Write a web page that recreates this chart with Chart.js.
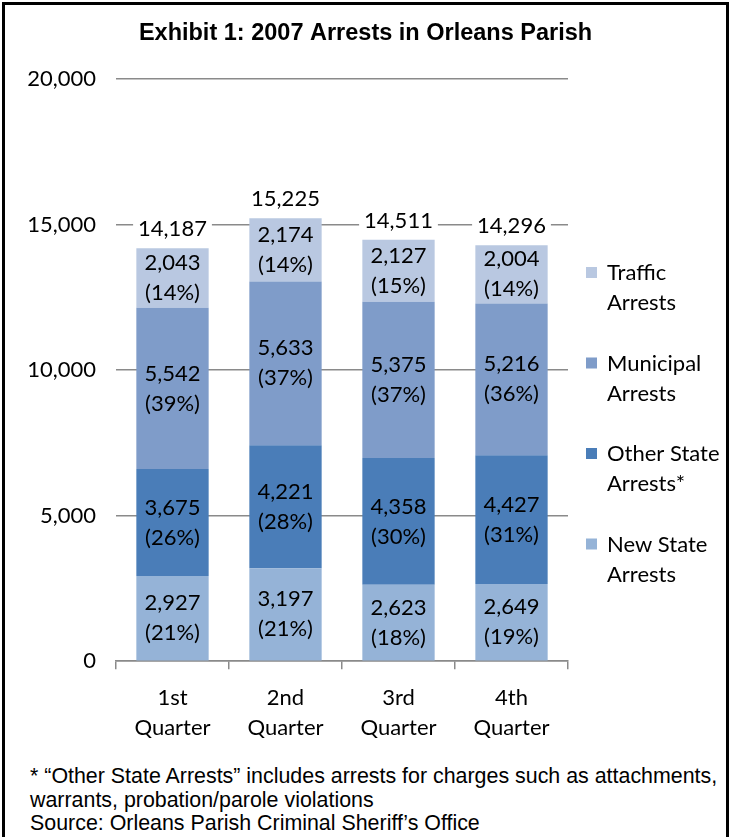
<!DOCTYPE html>
<html>
<head>
<meta charset="utf-8">
<script src="https://cdn.jsdelivr.net/npm/chart.js@4"></script>
<style>
    body { margin: 0; background: #fff; }
    #frame { position: absolute; left: 2px; top: 2px; width: 721px; height: 860px; border: 3px solid #000; }
    #wrap { position: absolute; left: 0; top: 0; width: 731px; height: 760px; }
    #note { position: absolute; left: 30px; top: 765px; font: 21.4px "Liberation Sans", Arial, sans-serif; line-height: 23.5px; color: #000; }
</style>
</head>
<body>
<div id="frame"></div>
<div id="wrap"><canvas id="arrestChart" width="731" height="760"></canvas></div>
<div id="note">* “Other State Arrests” includes arrests for charges such as attachments,<br>warrants, probation/parole violations<br>Source: Orleans Parish Criminal Sheriff’s Office</div>
<script>
// Dữ liệu
var quarters = [['1st', 'Quarter'], ['2nd', 'Quarter'], ['3rd', 'Quarter'], ['4th', 'Quarter']];
var newState = [2927, 3197, 2623, 2649];
var otherState = [3675, 4221, 4358, 4427];
var municipal = [5542, 5633, 5375, 5216];
var traffic = [2043, 2174, 2127, 2004];
var totals = [14187, 15225, 14511, 14296];
var yTicks = [0, 5000, 10000, 15000, 20000];

var seriesNames = ['New State Arrests', 'Other State Arrests*', 'Municipal Arrests', 'Traffic Arrests'];
var seriesColors = ['#95b3d7', '#4a7db8', '#7f9cc9', '#b9c8e1'];

var labelFont = '22px Lato, "DejaVu Sans", sans-serif';

function fmt(v) { return v.toLocaleString('en-US'); }

// Nhãn giá trị + phần trăm trong từng đoạn, tổng trên đầu cột
var barLabels = {
    id: 'barLabels',
    afterDatasetsDraw: function (chart) {
        var ctx = chart.ctx;
        ctx.save();
        ctx.font = labelFont;
        ctx.fillStyle = '#000';
        ctx.textAlign = 'center';
        ctx.textBaseline = 'middle';
        chart.data.datasets.forEach(function (ds, di) {
            chart.getDatasetMeta(di).data.forEach(function (bar, i) {
                var cy = (bar.y + bar.base) / 2;
                var pct = Math.round(ds.data[i] / totals[i] * 100);
                ctx.fillText(fmt(ds.data[i]), bar.x, cy - 15);
                ctx.fillText('(' + pct + '%)', bar.x, cy + 15);
            });
        });
        var top = chart.getDatasetMeta(chart.data.datasets.length - 1).data;
        top.forEach(function (bar, i) {
            var txt = fmt(totals[i]);
            var w = ctx.measureText(txt).width + 10;
            var y = bar.y - 19;
            ctx.fillStyle = '#fff';
            ctx.fillRect(bar.x - w / 2, y - 12, w, 24);
            ctx.fillStyle = '#000';
            ctx.fillText(txt, bar.x, y);
        });
        ctx.restore();
    }
};

// Chú thích bên phải, hai dòng mỗi mục
var sideLegend = {
    id: 'sideLegend',
    afterDraw: function (chart) {
        var ctx = chart.ctx;
        ctx.save();
        ctx.font = labelFont;
        ctx.textAlign = 'left';
        ctx.textBaseline = 'middle';
        var n = chart.data.datasets.length;
        for (var k = 0; k < n; k++) {
            var ds = chart.data.datasets[n - 1 - k];
            var y = 273 + k * 90.5;
            ctx.fillStyle = ds.backgroundColor;
            ctx.fillRect(586, y - 6, 11, 11);
            var cut = ds.label.lastIndexOf(' ');
            ctx.fillStyle = '#000';
            ctx.fillText(ds.label.slice(0, cut), 607, y);
            ctx.fillText(ds.label.slice(cut + 1), 607, y + 30);
        }
        ctx.restore();
    }
};

var seriesData = [newState, otherState, municipal, traffic];
var ctx = document.getElementById('arrestChart').getContext('2d');
var chart = new Chart(ctx, {
    type: 'bar',
    data: {
        labels: quarters,
        datasets: seriesData.map(function (d, i) {
            return {
                label: seriesNames[i],
                data: d,
                backgroundColor: seriesColors[i],
                barPercentage: 0.64,
                categoryPercentage: 1
            };
        })
    },
    options: {
        responsive: false,
        animation: false,
        layout: { padding: { left: 0, right: 0, top: 0, bottom: 3 } },
        plugins: {
            legend: { display: false },
            tooltip: { enabled: false },
            title: {
                display: true,
                text: 'Exhibit 1: 2007 Arrests in Orleans Parish',
                color: '#000',
                font: { family: '"Liberation Sans", Arial, sans-serif', size: 23.5, weight: 'bold', lineHeight: 1.2 },
                padding: { top: 19, bottom: 32 }
            }
        },
        scales: {
            x: {
                stacked: true,
                grid: { display: true, drawOnChartArea: false, drawTicks: true, tickLength: 8, color: '#8a8a8a', lineWidth: 1.5 },
                border: { display: true, color: '#8a8a8a', width: 1.5 },
                ticks: { color: '#000', padding: 14, font: { family: 'Lato, "DejaVu Sans", sans-serif', size: 22, lineHeight: 1.36 } }
            },
            y: {
                stacked: true,
                min: yTicks[0],
                max: yTicks[yTicks.length - 1],
                afterBuildTicks: function (scale) {
                    scale.ticks = yTicks.map(function (v) { return { value: v }; });
                },
                afterFit: function (scale) { scale.width = 116; },
                grid: { color: '#8a8a8a', lineWidth: 1.5, drawTicks: false },
                border: { display: false },
                ticks: {
                    color: '#000',
                    padding: 20,
                    font: { family: 'Lato, "DejaVu Sans", sans-serif', size: 22 },
                    callback: function (v) { return fmt(v); }
                }
            },
            // trục trống bên phải chỉ để chừa chỗ cho chú thích
            side: {
                position: 'right',
                display: true,
                grid: { display: false },
                border: { display: false },
                ticks: { display: false },
                afterFit: function (scale) { scale.width = 163; }
            }
        }
    },
    plugins: [barLabels, sideLegend]
});
</script>
</body>
</html>
